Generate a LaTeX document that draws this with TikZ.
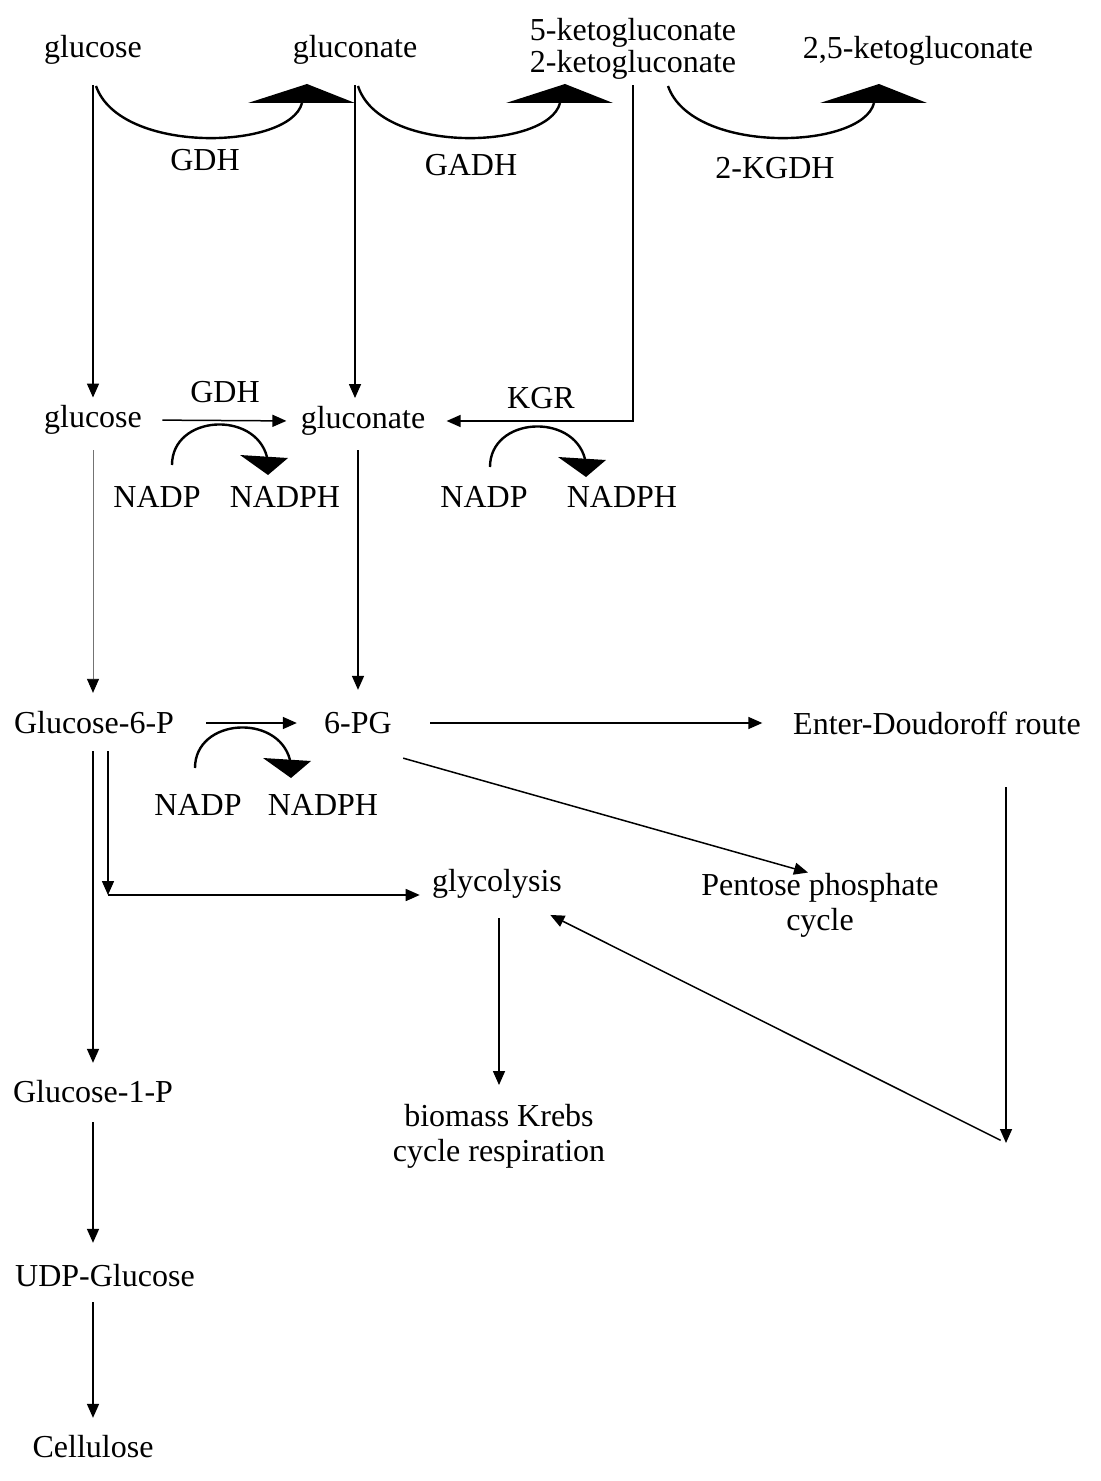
\documentclass[tikz,border=0pt]{standalone}
\usepackage{fontspec}
\setmainfont{Liberation Serif}
\usetikzlibrary{arrows.meta}

\begin{document}
\begin{tikzpicture}[x=0.5pt,y=-0.5pt,
  every node/.style={inner sep=0pt,font=\fontsize{16}{17.5}\selectfont},
  arr/.style={-{Triangle[length=7pt,width=6pt,color=black]},line width=0.75pt},
  thin/.style={line width=0.45pt,draw=black!55},
  cof/.style={line width=1.2pt}]
\useasboundingbox (0,0) rectangle (1101,1481);
% metabolites
\node (glcA) at (93,50) {glucose};
\node (gntA) at (355,50) {gluconate};
\node[align=center,font=\fontsize{16}{16}\selectfont] (keto) at (633,49) {5-ketogluconate\\2-ketogluconate};
\node (dketo) at (918,51) {2,5-ketogluconate};
\node (glcB) at (93,420) {glucose};
\node (gntB) at (363,421) {gluconate};
\node (G6P) at (94,723) {Glucose-6-P};
\node (sixPG) at (358,723) {6-PG};
\node (ED) at (937,723) {Enter-Doudoroff route};
\node (gly) at (497,884) {glycolysis};
\node[align=center] (PPP) at (820,905) {Pentose phosphate\\cycle};
\node[align=center] (bio) at (499,1136) {biomass Krebs\\cycle respiration};
\node (G1P) at (93,1092) {Glucose-1-P};
\node (UDP) at (105,1276) {UDP-Glucose};
\node (Cel) at (93,1447) {Cellulose};
% enzymes and cofactors
\node (eGDH) at (205,160) {GDH};
\node (eGADH) at (471,165) {GADH};
\node (eKGDH) at (775,168) {2-KGDH};
\node (eGDHm) at (225,392) {GDH};
\node (eKGR) at (541,398) {KGR};
\node (nA) at (157,497) {NADP};
\node (nhA) at (285,497) {NADPH};
\node (nB) at (484,497) {NADP};
\node (nhB) at (622,497) {NADPH};
\node (nC) at (198,805) {NADP};
\node (nhC) at (323,805) {NADPH};
% oxidation arcs
\draw[cof] (96,86) .. controls (120,155) and (290,150) .. (302,103);
\fill (248,103) -- (307,84) -- (355,103) -- cycle;
\draw[cof] (358,86) .. controls (380,155) and (548,150) .. (560,103);
\fill (506,103) -- (565,84) -- (613,103) -- cycle;
\draw[cof] (668,86) .. controls (692,155) and (862,150) .. (874,103);
\fill (820,103) -- (879,84) -- (927,103) -- cycle;
% NADP arcs
\draw[cof] (172,465) .. controls (172,415) and (255,410) .. (267,457);
\fill (240,455) -- (288,458) -- (268,475) -- cycle;
\draw[cof] (490,467) .. controls (490,417) and (573,412) .. (585,459);
\fill (558,457) -- (606,460) -- (586,477) -- cycle;
\draw[cof] (195,768) .. controls (195,718) and (278,713) .. (290,760);
\fill (263,758) -- (311,761) -- (291,778) -- cycle;
% pathway
\draw[arr,shorten <=10pt,shorten >=3.75pt] (glcA.south) -- (glcB.north);
\draw[arr,shorten <=10pt,shorten >=4pt] (gntA.south) -- (gntA.south |- gntB.north);
\draw[arr,shorten <=2.75pt,shorten >=10.5pt] (keto.south) |- (gntB.east);
\draw[arr,shorten <=10pt,shorten >=7pt] (glcB.east) -- (gntB.west);
\draw[arr,thin,shorten <=7.75pt,shorten >=9.25pt] (glcB.south) -- (G6P.north -| glcB);
\draw[arr,shorten <=7.25pt,shorten >=11pt] (gntB.south -| sixPG) -- (sixPG.north);
\draw[arr,shorten <=16pt,shorten >=13.5pt] (G6P.east) -- (sixPG.west);
\draw[arr,shorten <=19pt,shorten >=15.25pt] (sixPG.east) -- (ED.west);
\draw[arr] ([xshift=5.5pt,yshift=-12pt]sixPG.south east) -- ([xshift=-6pt]PPP.north);
\coordinate (bend) at (108,895);
\draw[arr,shorten <=8.25pt] (G6P.south -| bend) -- (bend);
\draw[arr,shorten >=6pt] (bend) -- (bend -| gly.west);
\draw[arr,shorten <=8.25pt,shorten >=8.75pt] (G6P.south -| G1P) -- (G1P.north);
\draw[arr,shorten <=9.25pt,shorten >=10.75pt] (G1P.south) -- (G1P.south |- UDP.north);
\draw[arr,shorten <=7.25pt,shorten >=8.75pt] (UDP.south -| Cel) -- (Cel.north);
\draw[arr,shorten <=9.75pt,shorten >=9.25pt] (gly.south -| bio) -- (bio.north);
\coordinate (edEnd) at (1006,1143);
\draw[arr,shorten <=26.25pt] (ED.south -| edEnd) -- (edEnd);
\draw[arr,shorten <=3pt] (edEnd) -- ([xshift=-6pt,yshift=-8pt]gly.south east);
\end{tikzpicture}
\end{document}
